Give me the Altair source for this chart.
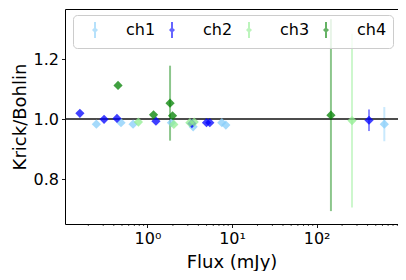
import altair as alt
import pandas as pd

channels = ["ch1", "ch2", "ch3", "ch4"]
colors = ["#87CEFA", "#0000FF", "#90EE90", "#008000"]

ch1_flux = [0.249, 0.487, 0.676, 1.92, 3.47, 7.57, 8.45, 631]
ch1_ratio = [0.983, 0.988, 0.983, 0.988, 0.974, 0.988, 0.980, 0.983]
ch1_err = [0.0, 0.0, 0.0, 0.0, 0.0, 0.0, 0.0, 0.057]

ch2_flux = [0.159, 0.307, 0.436, 1.26, 3.35, 4.99, 5.46, 416]
ch2_ratio = [1.019, 0.999, 1.002, 0.993, 0.985, 0.988, 0.988, 0.996]
ch2_err = [0.0, 0.0, 0.0, 0.0, 0.012, 0.0, 0.0, 0.036]

ch3_flux = [0.782, 2.05, 3.17, 3.57, 262]
ch3_ratio = [0.990, 0.982, 0.988, 0.990, 0.995]
ch3_err = [0.0, 0.0, 0.0, 0.0, 0.29]

ch4_flux = [0.449, 1.18, 1.85, 1.98, 147.6]
ch4_ratio = [1.112, 1.014, 1.053, 1.011, 1.013]
ch4_err = [0.0, 0.0, 0.125, 0.0, 0.32]

x_major = [1, 10, 100]
x_minor = [0.2, 0.3, 0.4, 0.5, 0.6, 0.7, 0.8, 0.9,
           2, 3, 4, 5, 6, 7, 8, 9,
           20, 30, 40, 50, 60, 70, 80, 90,
           200, 300, 400, 500, 600, 700, 800, 900]
y_ticks = [0.8, 1.0, 1.2]
ref_value = [1.0]

rows = []
for ch, fl, ra, er in [("ch1", ch1_flux, ch1_ratio, ch1_err),
                       ("ch2", ch2_flux, ch2_ratio, ch2_err),
                       ("ch3", ch3_flux, ch3_ratio, ch3_err),
                       ("ch4", ch4_flux, ch4_ratio, ch4_err)]:
    for f, r, e in zip(fl, ra, er):
        rows.append({"channel": ch, "flux": f, "ratio": r, "err": e,
                     "lo": r - e, "hi": r + e})
df = pd.DataFrame(rows)

W, H = 333, 215
FONT = "DejaVu Sans"

x_scale = alt.Scale(type="log", domain=[0.106, 916], nice=False)
y_scale = alt.Scale(domain=[0.65, 1.367], nice=False, zero=False)
color_scale = alt.Scale(domain=channels, range=colors)

x_axis = alt.Axis(values=x_major, title="Flux (mJy)",
                  labelExpr="datum.value == 1 ? '10⁰' : datum.value == 10 ? '10¹' : '10²'")
y_axis = alt.Axis(values=y_ticks, format=".1f", title="Krick/Bohlin")

legend_symbol = ("M0,-1L0,1"
                 "M0,-0.2L0.2,0L0,0.2L-0.2,0Z"
                 "M0,-0.1L0.1,0L0,0.1L-0.1,0Z"
                 "M0,-0.02L0.02,0L0,0.02L-0.02,0Z")

legend = alt.Legend(
    title=None, orient="none", legendX=8, legendY=6,
    direction="horizontal", columns=4,
    symbolType=legend_symbol,
    symbolSize=256, symbolStrokeWidth=2, symbolOpacity=0.6,
    symbolOffset=7,
    labelFontSize=16, labelFont=FONT, labelColor="black",
    labelOffset=22, columnPadding=0, padding=6,
    cornerRadius=4, strokeColor="#cccccc",
    fillColor="rgba(255,255,255,0.8)",
)

base = alt.Chart(df)

bars = base.transform_filter("datum.err > 0").mark_rule(strokeWidth=2, opacity=0.45).encode(
    x=alt.X("flux:Q", scale=x_scale, axis=x_axis),
    y=alt.Y("lo:Q", scale=y_scale, axis=y_axis),
    y2="hi:Q",
    color=alt.Color("channel:N", scale=color_scale, legend=legend),
)

hline = alt.Chart(pd.DataFrame({"y": ref_value})).mark_rule(color="#111111", strokeWidth=1.6).encode(
    y=alt.Y("y:Q", scale=y_scale, axis=y_axis)
)

points = base.mark_point(shape="diamond", filled=True, size=85, opacity=0.75).encode(
    x=alt.X("flux:Q", scale=x_scale, axis=x_axis),
    y=alt.Y("ratio:Q", scale=y_scale, axis=y_axis),
    color=alt.Color("channel:N", scale=color_scale, legend=legend),
)

minor = alt.Chart(pd.DataFrame({"t": x_minor})).mark_rule(color="black", strokeWidth=0.7).encode(
    x=alt.X("t:Q", scale=x_scale, axis=x_axis),
    y=alt.value(H),
    y2=alt.value(H + 2),
)

chart = alt.layer(bars, hline, points, minor).properties(
    width=W, height=H,
    autosize=alt.AutoSizeParams(type="none"),
    padding={"left": 57, "top": 1, "right": 0, "bottom": 47},
).configure_view(
    stroke="black", strokeWidth=1
).configure_axis(
    grid=False, domain=False,
    tickColor="black", tickSize=3.5, tickWidth=0.9,
    labelFont=FONT, labelFontSize=16, labelColor="black",
    titleFont=FONT, titleFontSize=18, titleFontWeight="normal", titleColor="black",
    labelPadding=3,
).configure_axisX(
    titlePadding=7
).configure_axisY(
    titlePadding=4
)

chart.save("out.html", embed_options={"renderer": "svg", "actions": False})
